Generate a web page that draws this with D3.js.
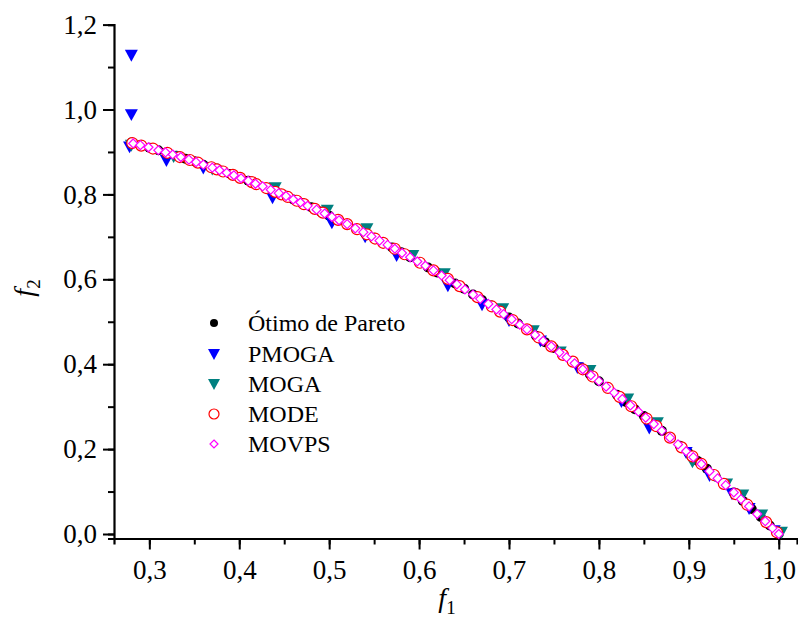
<!DOCTYPE html>
<html>
<head>
<meta charset="utf-8">
<script src="https://cdn.jsdelivr.net/npm/d3@7"></script>
<style>
  body { margin: 0; background: #fff; }
  text { font-family: "Liberation Serif", "Times New Roman", serif; }
</style>
</head>
<body>
<div id="chart"></div>
<script>
// Ótimo de Pareto (f1, f2)
const paretoF1 = [0.28,0.29,0.30,0.31,0.32,0.33,0.34,0.35,0.36,0.37,0.38,0.39,0.40,0.41,0.42,0.43,0.44,0.45,0.46,0.47,0.48,0.49,
  0.50,0.51,0.52,0.53,0.54,0.55,0.56,0.57,0.58,0.59,0.60,0.61,0.62,0.63,0.64,0.65,0.66,0.67,0.68,0.69,
  0.70,0.71,0.72,0.73,0.74,0.75,0.76,0.77,0.78,0.79,0.80,0.81,0.82,0.83,0.84,0.85,0.86,0.87,0.88,0.89,
  0.90,0.91,0.92,0.93,0.94,0.95,0.96,0.97,0.98,0.99,1.00];
const paretoF2 = [0.922,0.916,0.910,0.904,0.898,0.891,0.884,0.878,0.870,0.863,0.856,0.848,0.840,0.832,0.824,0.815,0.806,0.798,0.788,0.779,0.770,0.760,
  0.750,0.740,0.730,0.719,0.708,0.698,0.686,0.675,0.664,0.652,0.640,0.628,0.616,0.603,0.590,0.578,0.564,0.551,0.538,0.524,
  0.510,0.496,0.482,0.467,0.452,0.438,0.422,0.407,0.392,0.376,0.360,0.344,0.328,0.311,0.294,0.278,0.260,0.243,0.226,0.208,
  0.190,0.172,0.154,0.135,0.116,0.098,0.078,0.059,0.040,0.020,0.000];

// PMOGA
const pmogaF1 = [0.280,0.280,0.278,0.319,0.360,0.437,0.503,0.540,0.575,0.632,0.670,0.700,0.735,0.776,0.825,0.856,0.897,0.923,0.948,0.967,0.995];
const pmogaF2 = [1.128,0.988,0.912,0.880,0.862,0.792,0.733,0.700,0.656,0.585,0.540,0.503,0.455,0.392,0.312,0.250,0.192,0.138,0.095,0.060,0.008];

// MOGA
const mogaF1 = [0.280,0.327,0.370,0.440,0.498,0.542,0.593,0.628,0.693,0.727,0.757,0.790,0.832,0.865,0.904,0.942,0.960,0.981,1.003];
const mogaF2 = [0.916,0.889,0.860,0.816,0.763,0.719,0.656,0.613,0.531,0.479,0.429,0.385,0.318,0.262,0.170,0.118,0.092,0.045,0.004];

// MODE
const modeF1 = [0.281,0.291,0.304,0.320,0.334,0.345,0.354,0.369,0.375,0.382,0.393,0.401,0.414,0.419,0.430,0.440,0.447,0.454,0.464,0.472,0.484,0.493,
  0.510,0.520,0.531,0.542,0.551,0.560,0.573,0.584,0.601,0.616,0.632,0.645,0.665,0.681,0.690,0.704,0.720,0.733,0.747,
  0.760,0.771,0.782,0.793,0.810,0.823,0.836,0.853,0.864,0.879,0.892,0.904,0.914,0.928,0.939,0.952,0.965,0.986,0.998];
const modeF2 = [0.921,0.915,0.908,0.898,0.888,0.881,0.875,0.864,0.859,0.854,0.846,0.839,0.829,0.824,0.815,0.806,0.800,0.794,0.785,0.777,0.766,0.757,
  0.740,0.730,0.718,0.706,0.696,0.686,0.672,0.659,0.639,0.621,0.601,0.584,0.558,0.536,0.524,0.504,0.482,0.463,0.442,
  0.422,0.406,0.388,0.371,0.344,0.323,0.301,0.272,0.254,0.227,0.204,0.183,0.165,0.139,0.118,0.094,0.069,0.028,0.004];

// MOVPS
const movpsF1 = [0.282,0.290,0.299,0.310,0.318,0.326,0.335,0.344,0.352,0.360,0.370,0.378,0.386,0.394,0.402,0.410,0.418,0.426,0.435,0.444,0.452,0.460,
  0.468,0.476,0.486,0.495,0.503,0.511,0.520,0.529,0.538,0.547,0.556,0.565,0.573,0.581,0.590,0.598,0.607,0.616,0.625,0.634,
  0.642,0.651,0.660,0.668,0.677,0.686,0.694,0.703,0.712,0.720,0.729,0.738,0.747,0.756,0.764,0.773,0.782,0.791,0.800,0.808,
  0.817,0.826,0.835,0.844,0.852,0.861,0.870,0.879,0.888,0.897,0.905,0.914,0.923,0.932,0.941,0.950,0.958,0.967,0.976,0.985,0.993,1.000];
const movpsF2 = [0.920,0.916,0.911,0.904,0.899,0.894,0.888,0.882,0.876,0.870,0.863,0.857,0.851,0.845,0.838,0.832,0.825,0.819,0.811,0.803,0.796,0.788,
  0.781,0.773,0.764,0.755,0.747,0.739,0.730,0.720,0.711,0.701,0.691,0.681,0.672,0.662,0.652,0.642,0.632,0.621,0.609,0.598,
  0.588,0.576,0.564,0.554,0.542,0.529,0.518,0.506,0.493,0.482,0.469,0.455,0.442,0.428,0.416,0.402,0.388,0.374,0.360,0.347,
  0.333,0.318,0.303,0.288,0.274,0.259,0.243,0.227,0.211,0.195,0.181,0.165,0.148,0.131,0.115,0.098,0.082,0.065,0.047,0.030,0.014,0.000];

const xTicks = [0.3,0.4,0.5,0.6,0.7,0.8,0.9,1.0];
const yTicks = [0.0,0.2,0.4,0.6,0.8,1.0,1.2];
const legendNames = ["Ótimo de Pareto","PMOGA","MOGA","MODE","MOVPS"];

const width = 798, height = 624;
const svg = d3.select("#chart").append("svg")
  .attr("width", width).attr("height", height);

const x = d3.scaleLinear().domain([0.2607, 1.0203]).range([114, 797]);
const y = d3.scaleLinear().domain([-0.0106, 1.2]).range([538.5, 24.6]);

const fmt = d => d3.format(".1f")(d).replace(".", ",");

// x axis
const xAxisG = svg.append("g").attr("transform", `translate(0,${y(-0.0106)})`);
xAxisG.call(d3.axisBottom(x).tickValues(d3.range(0.30, 1.001, 0.05)).tickSize(6).tickFormat(""));
xAxisG.call(g => g.selectAll(".tick line").attr("stroke-width", 2));
const xMajor = svg.append("g").attr("transform", `translate(0,${y(-0.0106)})`)
  .call(d3.axisBottom(x).tickValues(xTicks).tickSize(11).tickPadding(10).tickFormat(fmt));
xMajor.select(".domain").remove();
xMajor.selectAll(".tick line").attr("stroke-width", 2);
xMajor.selectAll(".tick text").attr("font-size", 27).attr("fill", "#000")
  .attr("font-family", "Liberation Serif");
xAxisG.select(".domain").attr("stroke-width", 2.2);

// y axis
const yAxisG = svg.append("g").attr("transform", `translate(${x(0.2607)},0)`);
yAxisG.call(d3.axisLeft(y).tickValues(d3.range(0, 1.201, 0.1)).tickSize(6).tickFormat(""));
yAxisG.selectAll(".tick line").attr("stroke-width", 2);
yAxisG.select(".domain").attr("stroke-width", 2.2);
const yMajor = svg.append("g").attr("transform", `translate(${x(0.2607)},0)`)
  .call(d3.axisLeft(y).tickValues(yTicks).tickSize(11).tickPadding(6).tickFormat(fmt));
yMajor.select(".domain").remove();
yMajor.selectAll(".tick line").attr("stroke-width", 2);
yMajor.selectAll(".tick text").attr("font-size", 27).attr("fill", "#000")
  .attr("font-family", "Liberation Serif");

// axis titles
const xt = svg.append("text").attr("x", 447).attr("y", 607)
  .attr("text-anchor", "middle").attr("font-size", 28);
xt.append("tspan").attr("font-style", "italic").text("f");
xt.append("tspan").attr("font-size", 19).attr("dy", 7).text("1");

const yt = svg.append("text").attr("transform", "translate(33,288) rotate(-90)")
  .attr("text-anchor", "middle").attr("font-size", 28);
yt.append("tspan").attr("font-style", "italic").text("f");
yt.append("tspan").attr("font-size", 19).attr("dy", 7).text("2");

// symbols
const triDown = s => `M${-s / 2},${-s * 0.42} L${s / 2},${-s * 0.42} L0,${s * 0.5} Z`;
const diamond = s => `M0,${-s} L${s},0 L0,${s} L${-s},0 Z`;

const plot = svg.append("g");

plot.selectAll(".pareto").data(d3.zip(paretoF1, paretoF2)).enter()
  .append("circle").attr("class", "pareto")
  .attr("cx", d => x(d[0])).attr("cy", d => y(d[1])).attr("r", 5).attr("fill", "#000");

plot.selectAll(".pmoga").data(d3.zip(pmogaF1, pmogaF2)).enter()
  .append("path").attr("class", "pmoga")
  .attr("transform", d => `translate(${x(d[0])},${y(d[1])})`)
  .attr("d", triDown(13)).attr("fill", "#0000ff");

plot.selectAll(".moga").data(d3.zip(mogaF1, mogaF2)).enter()
  .append("path").attr("class", "moga")
  .attr("transform", d => `translate(${x(d[0])},${y(d[1])})`)
  .attr("d", triDown(13)).attr("fill", "#008080");

plot.selectAll(".mode").data(d3.zip(modeF1, modeF2)).enter()
  .append("circle").attr("class", "mode")
  .attr("cx", d => x(d[0])).attr("cy", d => y(d[1])).attr("r", 5.5)
  .attr("fill", "#fff").attr("stroke", "#ff0000").attr("stroke-width", 1.2);

plot.selectAll(".movps").data(d3.zip(movpsF1, movpsF2)).enter()
  .append("path").attr("class", "movps")
  .attr("transform", d => `translate(${x(d[0])},${y(d[1])})`)
  .attr("d", diamond(4.5))
  .attr("fill", "#fff").attr("stroke", "#ff00ff").attr("stroke-width", 1.2);

// legend
const legend = svg.append("g");
const rowY = [323, 354, 384, 414, 444];
legendNames.forEach((name, i) => {
  const g = legend.append("g").attr("transform", `translate(214,${rowY[i]})`);
  if (i === 0) g.append("circle").attr("r", 4).attr("fill", "#000");
  if (i === 1) g.append("path").attr("d", triDown(12)).attr("fill", "#0000ff");
  if (i === 2) g.append("path").attr("d", triDown(12)).attr("fill", "#008080");
  if (i === 3) g.append("circle").attr("r", 5).attr("fill", "#fff").attr("stroke", "#ff0000").attr("stroke-width", 1.2);
  if (i === 4) g.append("path").attr("d", diamond(4)).attr("fill", "#fff").attr("stroke", "#ff00ff").attr("stroke-width", 1.2);
  legend.append("text").attr("x", 248).attr("y", rowY[i] + 8)
    .attr("font-size", 24).attr("fill", "#000").text(name);
});
</script>
</body>
</html>
